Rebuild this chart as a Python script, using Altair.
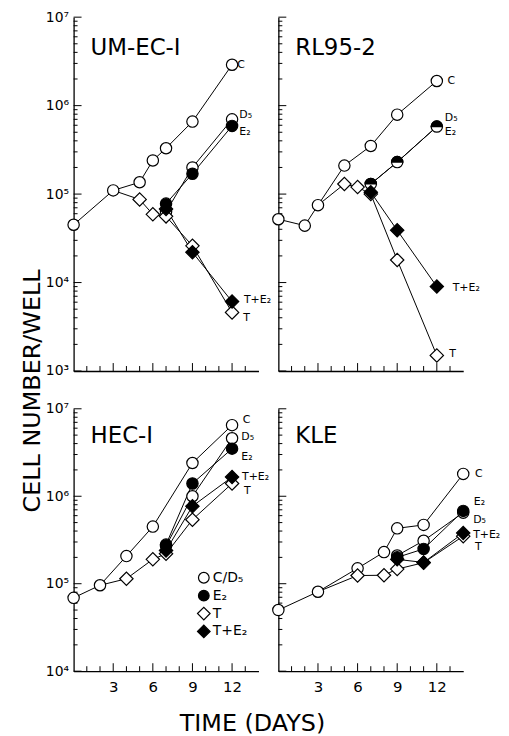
import altair as alt
import pandas as pd

FONT = "DejaVu Sans"

# ---------------- data ----------------
PANEL_NAMES = ["UM-EC-I", "RL95-2", "HEC-I", "KLE"]

# UM-EC-I
UM_C_DAY = [0, 3, 5, 6, 7, 9, 12]
UM_C_VAL = [4.5e4, 1.1e5, 1.36e5, 2.4e5, 3.3e5, 6.6e5, 2.9e6]
UM_D5_DAY = [7, 9, 12]
UM_D5_VAL = [6.3e4, 2.0e5, 7.0e5]
UM_E2_DAY = [7, 9, 12]
UM_E2_VAL = [7.8e4, 1.7e5, 5.9e5]
UM_T_DAY = [5, 6, 7, 9, 12]
UM_T_VAL = [8.7e4, 5.9e4, 5.6e4, 2.6e4, 4.6e3]
UM_TE2_DAY = [7, 9, 12]
UM_TE2_VAL = [6.8e4, 2.2e4, 6.1e3]
UM_T_FROM = 3

# RL95-2
RL_C_DAY = [0, 2, 3, 5, 7, 9, 12]
RL_C_VAL = [5.2e4, 4.4e4, 7.5e4, 2.1e5, 3.5e5, 7.9e5, 1.9e6]
RL_D5_DAY = [7, 9, 12]
RL_D5_VAL = [1.3e5, 2.3e5, 5.8e5]
RL_E2_DAY = [7, 9, 12]
RL_E2_VAL = [1.3e5, 2.3e5, 5.8e5]
RL_T_DAY = [5, 6, 7, 9, 12]
RL_T_VAL = [1.3e5, 1.2e5, 1.0e5, 1.8e4, 1.5e3]
RL_TE2_DAY = [7, 9, 12]
RL_TE2_VAL = [1.05e5, 3.9e4, 9.0e3]
RL_T_FROM = 3

# HEC-I
HE_C_DAY = [0, 2, 4, 6, 9, 12]
HE_C_VAL = [6.9e4, 9.6e4, 2.07e5, 4.5e5, 2.4e6, 6.5e6]
HE_D5_DAY = [7, 9, 12]
HE_D5_VAL = [2.7e5, 1.0e6, 4.6e6]
HE_E2_DAY = [7, 9, 12]
HE_E2_VAL = [2.8e5, 1.4e6, 3.5e6]
HE_T_DAY = [4, 6, 7, 9, 12]
HE_T_VAL = [1.14e5, 1.9e5, 2.2e5, 5.4e5, 1.4e6]
HE_TE2_DAY = [7, 9, 12]
HE_TE2_VAL = [2.4e5, 7.7e5, 1.66e6]
HE_T_FROM = 2

# KLE
KL_C_DAY = [0, 3, 6, 8, 9, 11, 14]
KL_C_VAL = [5.0e4, 8.1e4, 1.5e5, 2.3e5, 4.3e5, 4.7e5, 1.8e6]
KL_D5_DAY = [9, 11, 14]
KL_D5_VAL = [2.1e5, 3.1e5, 6.5e5]
KL_E2_DAY = [9, 11, 14]
KL_E2_VAL = [2.0e5, 2.5e5, 6.8e5]
KL_T_DAY = [6, 8, 9, 11, 14]
KL_T_VAL = [1.24e5, 1.25e5, 1.47e5, 1.74e5, 3.5e5]
KL_TE2_DAY = [9, 11, 14]
KL_TE2_VAL = [1.9e5, 1.75e5, 3.8e5]
KL_T_FROM = 3

# end-of-line labels (text, day, cell number)
UM_LAB_TEXT = ["C", "D₅", "E₂", "T+E₂", "T"]
UM_LAB_DAY = [12.4, 12.55, 12.55, 12.9, 12.85]
UM_LAB_VAL = [2.9e6, 7.9e5, 5.0e5, 6.4e3, 4.0e3]
RL_LAB_TEXT = ["C", "D₅", "E₂", "T+E₂", "T"]
RL_LAB_DAY = [12.8, 12.6, 12.6, 13.2, 12.95]
RL_LAB_VAL = [1.9e6, 7.3e5, 5.0e5, 8.7e3, 1.55e3]
HE_LAB_TEXT = ["C", "D₅", "E₂", "T+E₂", "T"]
HE_LAB_DAY = [12.8, 12.7, 12.7, 12.75, 12.9]
HE_LAB_VAL = [7.4e6, 4.8e6, 2.8e6, 1.65e6, 1.15e6]
KL_LAB_TEXT = ["C", "E₂", "D₅", "T+E₂", "T"]
KL_LAB_DAY = [14.9, 14.8, 14.75, 14.75, 14.9]
KL_LAB_VAL = [1.8e6, 8.6e5, 5.3e5, 3.6e5, 2.6e5]

LEGEND_TEXT = ["C/D₅", "E₂", "T", "T+E₂"]
X_TICK_LABELS = [3, 6, 9, 12]
Y_TITLE = "CELL NUMBER/WELL"
X_TITLE = "TIME (DAYS)"

# ---------------- helpers ----------------
W = 186
H_TOP = 356
H_BOT = 264
HALF = "M-1,0A1,1,0,0,1,1,0Z"
SUP = {3: "³", 4: "⁴", 5: "⁵", 6: "⁶", 7: "⁷"}


def build(series, t_from):
    line_rows, pt_rows = [], []
    c_days, c_vals = series["C"][0], series["C"][1]
    for name, (days, vals, marker) in series.items():
        if name == "T":
            v0 = c_vals[c_days.index(t_from)]
            line_rows.append({"s": name, "day": t_from, "v": v0})
        for d, v in zip(days, vals):
            line_rows.append({"s": name, "day": d, "v": v})
            pt_rows.append({"s": name, "day": d, "v": v, "m": marker})
    return pd.DataFrame(line_rows), pd.DataFrame(pt_rows)


def panel(name, series, t_from, labs, exps, top, left, legend=False, titles=False):
    H = H_TOP if top else H_BOT
    dom = [10 ** exps[0], 10 ** exps[-1]]
    xs = alt.Scale(domain=[0, 14], nice=False, zero=False)
    ys = alt.Scale(type="log", domain=dom, nice=False)
    expr = " : ".join(
        [f"datum.value == {10 ** e} ? '10{SUP[e]}'" for e in exps]) + " : ''"
    yaxis = alt.Axis(values=[10 ** e for e in exps], labelExpr=expr, labels=left,
                     ticks=False, grid=False, domainColor="black", domainWidth=1.3,
                     labelFont=FONT, labelFontSize=14, labelColor="black",
                     labelPadding=5, labelFlush=False, labelOverlap=False, title=None)
    xaxis = alt.Axis(values=X_TICK_LABELS, labels=not top, ticks=False, grid=False,
                     domainColor="black", domainWidth=1.3, labelFont=FONT,
                     labelFontSize=15, labelColor="black", labelPadding=8,
                     labelFlush=False, labelOverlap=False, title=None)
    ldf, pdf = build(series, t_from)
    X = lambda f: alt.X(f"{f}:Q", scale=xs, axis=xaxis, title=None)
    Y = lambda f: alt.Y(f"{f}:Q", scale=ys, axis=yaxis, title=None)

    layers = []
    layers.append(alt.Chart(ldf).mark_line(color="black", strokeWidth=1).encode(
        x=X("day"), y=Y("v"), detail="s:N", order="day:Q"))

    # inward ticks
    minor, major = [], []
    for e in range(exps[0], exps[-1] + 1):
        for k in range(1, 10):
            val = k * 10 ** e
            if dom[0] <= val <= dom[1]:
                (major if k == 1 else minor).append(val)
    layers.append(alt.Chart(pd.DataFrame({"v": minor})).mark_rule(color="black", strokeWidth=1)
                  .encode(y=Y("v"), x=alt.value(0), x2=alt.value(4)))
    layers.append(alt.Chart(pd.DataFrame({"v": major})).mark_rule(color="black", strokeWidth=1)
                  .encode(y=Y("v"), x=alt.value(0), x2=alt.value(8)))
    days_minor = [d for d in range(1, 14) if d % 3]
    days_major = [d for d in range(1, 14) if d % 3 == 0]
    layers.append(alt.Chart(pd.DataFrame({"day": days_minor})).mark_rule(color="black", strokeWidth=1)
                  .encode(x=X("day"), y=alt.value(H), y2=alt.value(H - 5)))
    layers.append(alt.Chart(pd.DataFrame({"day": days_major})).mark_rule(color="black", strokeWidth=1)
                  .encode(x=X("day"), y=alt.value(H), y2=alt.value(H - 8)))

    styles = [
        ("oc", "circle", "white", 130),
        ("od", "diamond", "white", 180),
        ("fc", "circle", "black", 130),
        ("fd", "diamond", "black", 180),
        ("hc", HALF, "black", 130),
    ]
    for m, shape, fill, size in styles:
        sub = pdf[pdf["m"] == m]
        if len(sub) == 0:
            continue
        layers.append(alt.Chart(sub).mark_point(
            shape=shape, filled=True, fill=fill, stroke="black", strokeWidth=1.2,
            size=size, opacity=1).encode(x=X("day"), y=Y("v")))

    ltext, lday, lval = labs
    layers.append(alt.Chart(pd.DataFrame({"t": ltext, "day": lday, "v": lval})).mark_text(
        align="left", baseline="middle", font=FONT, fontSize=11, color="black").encode(
        x=X("day"), y=Y("v"), text="t:N"))

    tx, ty = (17, 38) if top else (17, 34)
    layers.append(alt.Chart(pd.DataFrame({"n": [name]})).mark_text(
        align="left", baseline="alphabetic", font=FONT, fontSize=23, color="black").encode(
        x=alt.value(tx), y=alt.value(ty), text="n:N"))

    if legend:
        lshapes = [("circle", "white", 115), ("circle", "black", 115),
                   ("diamond", "white", 160), ("diamond", "black", 160)]
        for i, (txt, (shape, fill, size)) in enumerate(zip(LEGEND_TEXT, lshapes)):
            yy = 170 + 18 * i
            layers.append(alt.Chart(pd.DataFrame({"t": [txt]})).mark_point(
                shape=shape, filled=True, fill=fill, stroke="black", strokeWidth=1.2,
                size=size, opacity=1).encode(x=alt.value(131), y=alt.value(yy)))
            layers.append(alt.Chart(pd.DataFrame({"t": [txt]})).mark_text(
                align="left", baseline="middle", font=FONT, fontSize=14, color="black").encode(
                x=alt.value(140), y=alt.value(yy), text="t:N"))

    if titles == "y":
        layers.append(alt.Chart(pd.DataFrame({"t": [Y_TITLE]})).mark_text(
            align="center", baseline="middle", font=FONT, fontSize=24, angle=270,
            color="black").encode(x=alt.value(-41), y=alt.value(376), text="t:N"))
    if titles == "x":
        layers.append(alt.Chart(pd.DataFrame({"t": [X_TITLE]})).mark_text(
            align="center", baseline="middle", font=FONT, fontSize=24,
            color="black").encode(x=alt.value(180), y=alt.value(317), text="t:N"))

    return alt.layer(*layers).properties(width=W, height=H)


def ser(c, d5, e2, t, te2, e2_marker="fc"):
    return {
        "C": (c[0], c[1], "oc"),
        "D5": (d5[0], d5[1], "oc"),
        "T": (t[0], t[1], "od"),
        "E2": (e2[0], e2[1], e2_marker),
        "T+E2": (te2[0], te2[1], "fd"),
    }


p1 = panel(PANEL_NAMES[0],
           ser((UM_C_DAY, UM_C_VAL), (UM_D5_DAY, UM_D5_VAL), (UM_E2_DAY, UM_E2_VAL),
               (UM_T_DAY, UM_T_VAL), (UM_TE2_DAY, UM_TE2_VAL)),
           UM_T_FROM, (UM_LAB_TEXT, UM_LAB_DAY, UM_LAB_VAL), [3, 4, 5, 6, 7],
           top=True, left=True, titles="y")
p2 = panel(PANEL_NAMES[1],
           ser((RL_C_DAY, RL_C_VAL), (RL_D5_DAY, RL_D5_VAL), (RL_E2_DAY, RL_E2_VAL),
               (RL_T_DAY, RL_T_VAL), (RL_TE2_DAY, RL_TE2_VAL), e2_marker="hc"),
           RL_T_FROM, (RL_LAB_TEXT, RL_LAB_DAY, RL_LAB_VAL), [3, 4, 5, 6, 7],
           top=True, left=False)
p3 = panel(PANEL_NAMES[2],
           ser((HE_C_DAY, HE_C_VAL), (HE_D5_DAY, HE_D5_VAL), (HE_E2_DAY, HE_E2_VAL),
               (HE_T_DAY, HE_T_VAL), (HE_TE2_DAY, HE_TE2_VAL)),
           HE_T_FROM, (HE_LAB_TEXT, HE_LAB_DAY, HE_LAB_VAL), [4, 5, 6, 7],
           top=False, left=True, legend=True, titles="x")
p4 = panel(PANEL_NAMES[3],
           ser((KL_C_DAY, KL_C_VAL), (KL_D5_DAY, KL_D5_VAL), (KL_E2_DAY, KL_E2_VAL),
               (KL_T_DAY, KL_T_VAL), (KL_TE2_DAY, KL_TE2_VAL)),
           KL_T_FROM, (KL_LAB_TEXT, KL_LAB_DAY, KL_LAB_VAL), [4, 5, 6, 7],
           top=False, left=False)

chart = alt.concat(p1, p2, p3, p4, columns=2,
                   spacing={"row": 38, "column": 20}, bounds="flush").properties(
    padding={"left": 13, "top": 0, "right": 0, "bottom": 0}
).configure(font=FONT, background="white").configure_view(
    stroke="transparent", strokeWidth=0).configure_axis(grid=False)

chart.save("out.html", embed_options={"renderer": "svg", "actions": False})
